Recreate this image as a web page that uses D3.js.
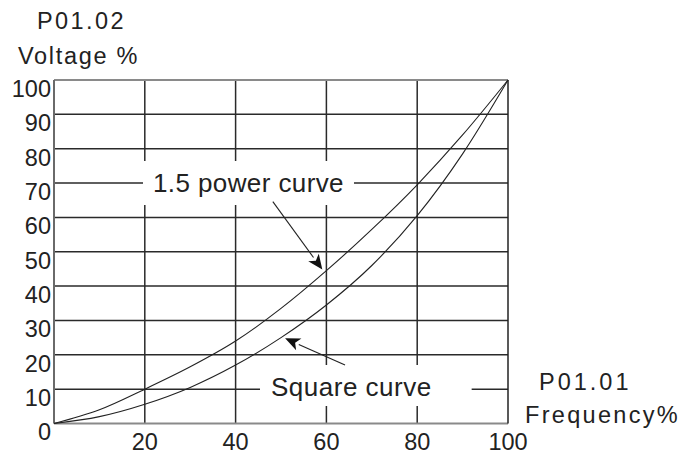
<!DOCTYPE html>
<html><head><meta charset="utf-8">
<script src="https://cdn.jsdelivr.net/npm/d3@7"></script>
<style>body{margin:0;background:#fff}svg{display:block}text{font-family:"Liberation Sans",Arial,sans-serif;fill:#222}</style>
</head><body><svg id="c" width="681" height="456"></svg>
<script>
const freq = [0,10,20,30,40,50,60,70,80,90,100];
const powerCurve = [0,4,10,16.5,24,33.5,44.5,56.5,69.5,84,100];
const squareCurve = [0,2,5.6,10.5,17,25,34.5,46,60.5,78.5,100];
const yTicks = [0,10,20,30,40,50,60,70,80,90,100];
const xTicks = [20,40,60,80,100];
const labels = {yUnit:"P01.02", yTitle:"Voltage %", xUnit:"P01.01", xTitle:"Frequency%", power:"1.5 power curve", square:"Square curve"};
// annotation arrows in data coordinates [from, to]
const powerArrow = [[48.2,64.6],[59.1,44.8]];
const squareArrow = [[64.1,17],[50.9,24.8]];

const svg = d3.select("#c");
const x = d3.scaleLinear().domain([0,100]).range([54,508]);
const y = d3.scaleLinear().domain([0,100]).range([423.5,80]);

const grid = svg.append("g").attr("stroke","#2a2a2a").attr("stroke-width",1.5);
grid.selectAll("line.h").data(yTicks.filter(d=>d>0&&d<100)).join("line")
  .attr("x1",x(0)).attr("x2",x(100)).attr("y1",d=>y(d)).attr("y2",d=>y(d));
grid.selectAll("line.v").data(xTicks.filter(d=>d<100)).join("line")
  .attr("y1",y(0)).attr("y2",y(100)).attr("x1",d=>x(d)).attr("x2",d=>x(d));
// frame
const fr = svg.append("g").attr("stroke-width",2);
fr.append("line").attr("x1",x(0)).attr("x2",x(100)).attr("y1",y(100)).attr("y2",y(100)).attr("stroke","#8a8a8a");
fr.append("line").attr("x1",x(0)).attr("x2",x(100)).attr("y1",y(0)).attr("y2",y(0)).attr("stroke","#8a8a8a");
fr.append("line").attr("x1",x(0)).attr("x2",x(0)).attr("y1",y(0)).attr("y2",y(100)).attr("stroke","#6a6a6a");
fr.append("line").attr("x1",x(100)).attr("x2",x(100)).attr("y1",y(0)).attr("y2",y(100)).attr("stroke","#222").attr("stroke-width",1.5);

// labels with white masks
function maskLabel(txt, tx, ty, ls, pad){
  const g = svg.append("g");
  const r = g.append("rect").attr("fill","#fff");
  const t = g.append("text").attr("x",tx).attr("y",ty).attr("font-size",26).attr("letter-spacing",ls).text(txt);
  const b = t.node().getBBox();
  r.attr("x",b.x-pad[0]).attr("y",b.y-pad[1]).attr("width",b.width+pad[0]+pad[2]).attr("height",b.height+pad[1]+pad[3]);
}
maskLabel(labels.power, 153, 192, 0.4, [10,7,10,7]);
maskLabel(labels.square, 271, 396, 0.5, [11,7,40,4]);

// curves
const line = d3.line().x(d=>x(d[0])).y(d=>y(d[1])).curve(d3.curveMonotoneX);
svg.append("path").datum(freq.map((f,i)=>[f,powerCurve[i]])).attr("d",line).attr("fill","none").attr("stroke","#222").attr("stroke-width",1.1);
svg.append("path").datum(freq.map((f,i)=>[f,squareCurve[i]])).attr("d",line).attr("fill","none").attr("stroke","#222").attr("stroke-width",1.1);

// arrows
function arrow(a){
  const x1=x(a[0][0]), y1=y(a[0][1]), x2=x(a[1][0]), y2=y(a[1][1]);
  const dx=x2-x1, dy=y2-y1, L=Math.hypot(dx,dy), ux=dx/L, uy=dy/L;
  const hl=15, hw=6.5;
  const bx=x2-ux*hl, by=y2-uy*hl;
  svg.append("line").attr("x1",x1).attr("y1",y1).attr("x2",bx).attr("y2",by).attr("stroke","#222").attr("stroke-width",1.1);
  svg.append("path").attr("d",`M${x2},${y2}L${bx-uy*hw},${by+ux*hw}L${bx+ux*4},${by+uy*4}L${bx+uy*hw},${by-ux*hw}Z`).attr("fill","#111");
}
arrow(powerArrow); arrow(squareArrow);

// tick labels
svg.append("g").selectAll("text").data(yTicks).join("text")
  .attr("x",51).attr("y",d=>y(d)+16.8).attr("text-anchor","end").attr("font-size",23.5).text(d=>d);
svg.append("g").selectAll("text").data(xTicks).join("text")
  .attr("x",d=>x(d)).attr("y",449.5).attr("text-anchor","middle").attr("font-size",23.5).text(d=>d);

// titles
svg.append("text").attr("x",37).attr("y",29).attr("font-size",23.5).attr("letter-spacing",2.4).text(labels.yUnit);
svg.append("text").attr("x",18).attr("y",64).attr("font-size",23.5).attr("letter-spacing",1.7).text(labels.yTitle);
svg.append("text").attr("x",539).attr("y",390).attr("font-size",23.5).attr("letter-spacing",3).text(labels.xUnit);
svg.append("text").attr("x",525).attr("y",423).attr("font-size",23.5).attr("letter-spacing",2.3).text(labels.xTitle);
</script></body></html>
